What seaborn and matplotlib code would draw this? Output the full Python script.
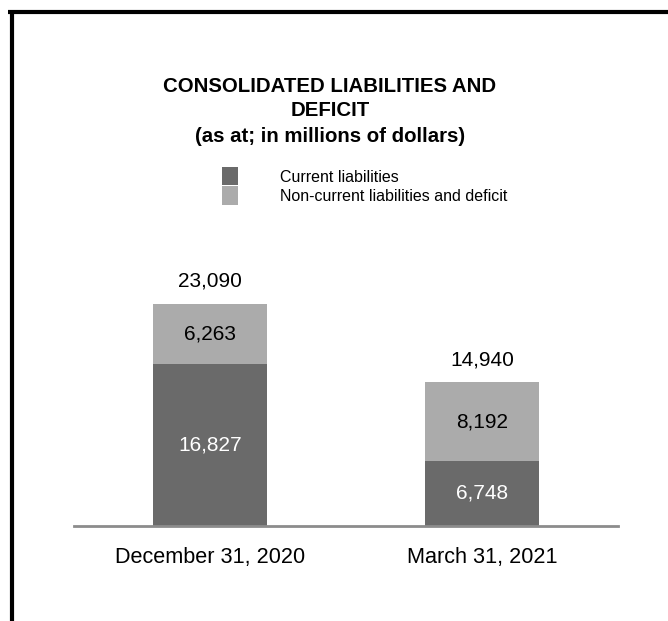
import matplotlib
matplotlib.use("Agg")
import matplotlib.pyplot as plt
import seaborn as sns
import pandas as pd
from matplotlib.patches import Patch
from matplotlib.lines import Line2D

categories = ["December 31, 2020", "March 31, 2021"]
current = [16827, 6748]
noncurrent = [6263, 8192]
totals = [23090, 14940]
series_names = ["Current liabilities", "Non-current liabilities and deficit"]

DARK = "#6a6a6a"
LIGHT = "#ababab"

sns.set_theme(style="white")
plt.rcParams["font.family"] = ["Liberation Sans", "DejaVu Sans"]
plt.rcParams["text.color"] = "black"

fig = plt.figure(figsize=(6.68, 6.21), dpi=100)
W, H = 668, 621
ax = fig.add_axes([74 / W, 1 - 526 / H, 544 / W, 289 / H])

df = pd.DataFrame({"cat": categories, "total": totals, "current": current, "noncurrent": noncurrent})
sns.barplot(data=df, x="cat", y="total", color=LIGHT, width=0.42, saturation=1, ax=ax, edgecolor="none")
sns.barplot(data=df, x="cat", y="current", color=DARK, width=0.42, saturation=1, ax=ax, edgecolor="none")

ax.set_xlim(-0.5, 1.5)
ax.set_ylim(0, 30000)
ax.set_xlabel("")
ax.set_ylabel("")
ax.set_yticks([])
for s in ["top", "left", "right"]:
    ax.spines[s].set_visible(False)
ax.spines["bottom"].set_color("#8c8c8c")
ax.spines["bottom"].set_linewidth(2)
ax.tick_params(axis="x", length=0, pad=15, labelsize=15.6, labelcolor="black")

for i in range(len(categories)):
    ax.text(i, current[i] / 2, f"{current[i]:,}", ha="center", va="center", fontsize=15, color="white")
    ax.text(i, current[i] + noncurrent[i] / 2, f"{noncurrent[i]:,}", ha="center", va="center", fontsize=15, color="black")
    ax.annotate(f"{totals[i]:,}", (i, totals[i]), xytext=(0, 16), textcoords="offset points",
                ha="center", va="center", fontsize=15, color="black")

cx = 330 / W
tkw = dict(ha="center", va="center", fontsize=14.7, fontweight="bold", color="black")
fig.text(cx, 1 - 87 / H, "CONSOLIDATED LIABILITIES AND", **tkw)
fig.text(cx, 1 - 111 / H, "DEFICIT", **tkw)
fig.text(cx, 1 - 137 / H, "(as at; in millions of dollars)", **tkw)

handles = [Patch(facecolor=DARK, edgecolor="none"), Patch(facecolor=LIGHT, edgecolor="none")]
leg = fig.legend(handles, series_names, loc="upper left", bbox_to_anchor=(222 / W, 1 - 167 / H),
                 frameon=False, fontsize=11.5, handlelength=1.0, handleheight=1.4,
                 handletextpad=2.6, labelspacing=0.05, borderpad=0, borderaxespad=0)
for t in leg.get_texts():
    t.set_color("black")

fig.add_artist(Line2D([8 / W, 1], [1 - 12 / H, 1 - 12 / H], color="black", lw=3, transform=fig.transFigure, solid_capstyle="butt"))
fig.add_artist(Line2D([12 / W, 12 / W], [0, 1 - 10 / H], color="black", lw=3, transform=fig.transFigure, solid_capstyle="butt"))

fig.savefig("out.png", dpi=100)
